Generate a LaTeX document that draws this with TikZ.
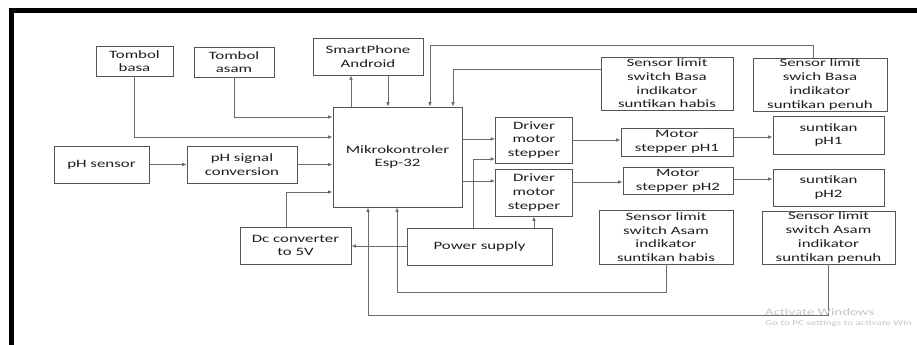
\documentclass[tikz,border=0pt]{standalone}
\usepackage{fontspec}
\newfontfamily\diafont[FakeStretch=1.5]{Carlito}
\usetikzlibrary{arrows.meta,positioning}
\definecolor{boxline}{HTML}{555555}
\definecolor{wiregray}{HTML}{6A6A6A}
\definecolor{inktext}{HTML}{1E1E1E}
\definecolor{wmgray}{HTML}{C4C4C4}

\begin{document}
\begin{tikzpicture}[x=0.03cm, y=-0.03cm,
  blok/.style 2 args={draw=boxline, line width=0.8pt, fill=white, inner sep=0pt,
              minimum width=#1*0.03cm, minimum height=#2*0.03cm, align=center,
              text=inktext, font=\diafont\fontsize{9.6}{11.7}\selectfont},
  arr/.style={-{Latex[length=1.3mm,width=1.1mm]}, line width=0.7pt, draw=wiregray},
  frame/.style={line width=0.15cm, draw=black},
  wm/.style={text=wmgray, inner sep=0pt, anchor=base west}
]
  \useasboundingbox (0,0) rectangle (917,345);
  \clip (0,0) rectangle (917,345);
  \draw[frame] (11,360) -- (11,10.5) -- (930,10.5);

  \node[blok={77}{30}]   (tbasa)  at (134.5,61)   {Tombol\\basa};
  \node[blok={80}{30}]   (tasam)  at (234,62)     {Tombol\\asam};
  \node[blok={110}{37}]  (hp)     at (368,56.5)   {SmartPhone\\Android};
  \node[blok={129}{100}] (mcu)    at (397.5,157)  {Mikrokontroler\\Esp-32};
  \node[blok={95}{37}]   (phsen)  at (101.5,164.5){pH sensor};
  \node[blok={110}{37}]  (phconv) at (242,164.5)  {pH signal\\conversion};
  \node[blok={111}{37}]  (dcconv) at (295.5,245.5){Dc converter\\to 5V};
  \node[blok={145}{37}]  (psu)    at (479.5,246.5){Power supply};
  \node[blok={77}{46}]   (drv1)   at (534,140)    {Driver\\motor\\stepper};
  \node[blok={77}{47}]   (drv2)   at (534,192.5)  {Driver\\motor\\stepper};
  \node[blok={112}{28}]  (mot1)   at (677,142)    {Motor\\stepper pH1};
  \node[blok={110}{27}]  (mot2)   at (678,180.5)  {Motor\\stepper pH2};
  \node[blok={111}{38}]  (sun1)   at (828.5,135)  {suntikan\\pH1};
  \node[blok={111}{37}]  (sun2)   at (828.5,187.5){suntikan\\pH2};
  \node[blok={132}{53}]  (lsbh)   at (667,83.5)   {Sensor limit\\switch Basa\\indikator\\suntikan habis};
  \node[blok={134}{53}]  (lsbp)   at (820,84.5)   {Sensor limit\\swich Basa\\indikator\\suntikan penuh};
  \node[blok={134}{54}]  (lsah)   at (666,237)    {Sensor limit\\switch Asam\\indikator\\suntikan habis};
  \node[blok={133}{53}]  (lsap)   at (828.5,237.5){Sensor limit\\switch Asam\\indikator\\suntikan penuh};

  \draw[arr] (tbasa.south) |- (mcu.west |- 0,137);
  \draw[arr] (tasam.south) |- (mcu.west |- 0,117);
  \draw[arr] (phsen) -- (phconv);
  \draw[arr] (phconv) -- (mcu.west |- phconv);
  \draw[arr] (dcconv.north -| 286,0) |- (mcu.west |- 0,192);
  \draw[arr] (mcu.north -| 351,0) -- (hp.south -| 351,0);
  \draw[arr] (hp.south -| 388,0) -- (mcu.north -| 388,0);
  \draw[arr] (lsbp.north -| 813,0) -- ++(0,-12) -| (mcu.north -| 430,0);
  \draw[arr] (lsbh.west |- 0,69) -| (mcu.north -| 453,0);
  \draw[arr] (mcu.east |- 0,139) -- (drv1.west |- 0,139);
  \draw[arr] (mcu.east |- 0,181) -- (drv2.west |- 0,181);
  \draw[arr] (psu.north -| 473,0) |- (drv1.west |- 0,159);
  \draw[arr] (psu.north -| drv2.south) -- (drv2.south);
  \draw[arr] (psu.west |- 0,246) -- (dcconv.east |- 0,246);
  \draw[arr] (lsah.south) -- ++(0,28) -| (mcu.south -| 397,0);
  \draw[arr] (lsap.south -| 828,0) -- ++(0,51) -| (mcu.south -| 368,0);
  \draw[arr] (drv1.east |- 0,140) -- (mot1.west |- 0,140);
  \draw[arr] (mot1.east |- 0,137) -- (sun1.west |- 0,137);
  \draw[arr] (drv2.east |- 0,182) -- (mot2.west |- 0,182);
  \draw[arr] (mot2.east |- 0,179) -- (sun2.west |- 0,179);

  \node[wm, font=\diafont\fontsize{8.5}{9}\selectfont] (wmtop) at (765,316) {Activate Windows};
  \node[wm, font=\diafont\fontsize{6.3}{7}\selectfont] (wmbot) at (765,325) {Go to PC settings to activate Win};
\end{tikzpicture}
\end{document}
